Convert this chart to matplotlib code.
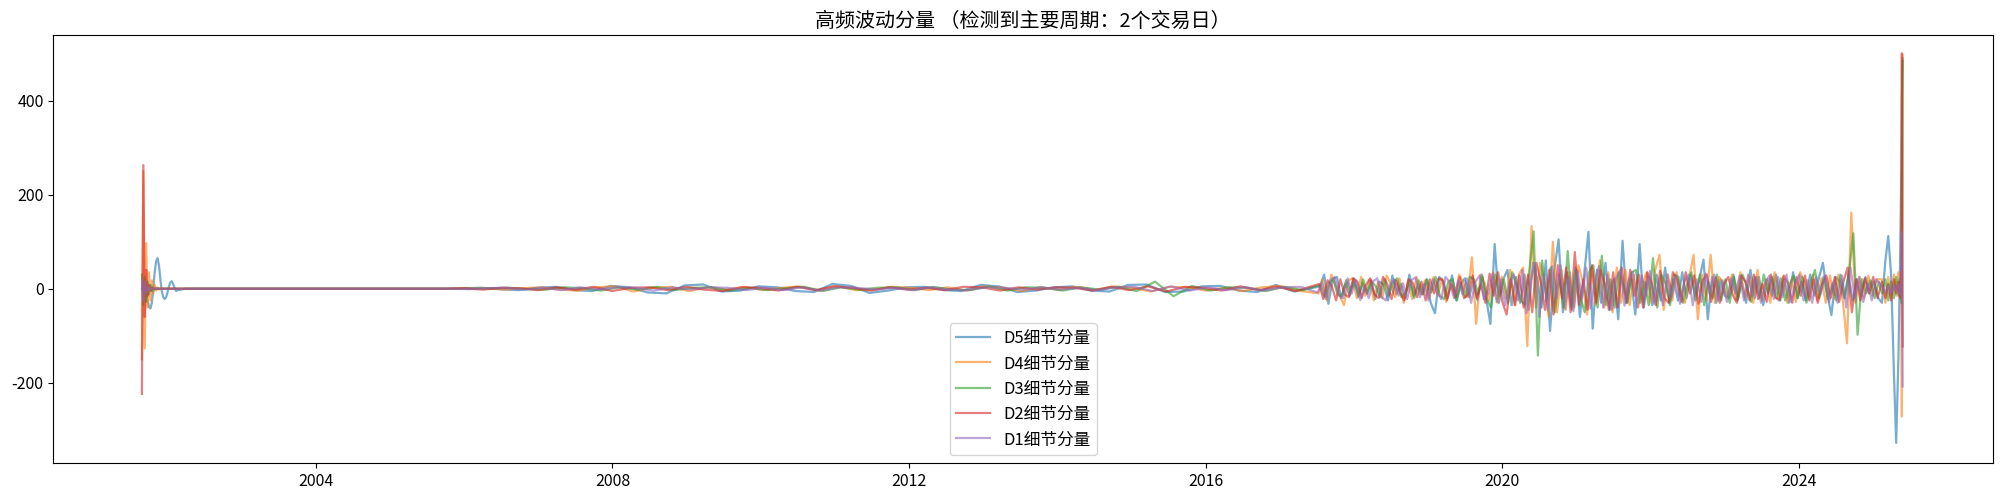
import pandas as pd
import matplotlib
matplotlib.use("Agg")
import matplotlib.pyplot as plt
import matplotlib.dates as mdates

# 폰트 설정 (중국어 글자 + 마이너스)
plt.rcParams["font.family"] = ["Noto Sans CJK SC", "DejaVu Sans"]
plt.rcParams["axes.unicode_minus"] = False
plt.rcParams["font.size"] = 12

# ---- data ----
labels = ["D5细节分量", "D4细节分量", "D3细节分量", "D2细节分量", "D1细节分量"]
colors = ["tab:blue", "tab:orange", "tab:green", "tab:red", "tab:purple"]

# sampling anchors of each component (flat part start, active part end)
flat_start = ["2002-04-01", "2002-04-22", "2002-05-13", "2002-04-08", "2002-05-01"]
active_end = ["2025-01-27", "2025-01-20", "2025-01-30", "2025-01-23", "2025-01-16"]

# end segment dates (final boundary spike)
end_dates = ["2025-02-14", "2025-03-03", "2025-03-17", "2025-03-31", "2025-04-14", "2025-04-25",
             "2025-05-06", "2025-05-14", "2025-05-20", "2025-05-23", "2025-05-27"]

# D5
d5_start = [0, 10, 5, -10, -25, -38, -42, -30, 0, 35, 58, 65, 50, 20, -5, -18, -22, -18, -8, 5, 13, 16, 10, 2, -5, -3]
d5_flat = [0, 0, 0, 0, 0, 0, 0, 0, 0, 0, 0, 0, 0, 0, 0,
           1, 2, -1, -3, 2, 4, -3, -5, 6, 3, -8, -10, 7, 9, -6, -4, 5, 3, -5, -7,
           10, 6, -9, -4, 3, 4, -3, -5, 8, 5, -7, -4, 3, 5, -4, -6, 8, 9, -7, -6,
           5, 6, -4, -7, 8, -6]
d5_active = [5, 30, -32, 20, 25, -20, 10, -15, 22, -18, 12, -10,
             18, -22, 15, 8, -25, 28, -12, 10, -20, 30, -15, 5,
             -12, 20, -30, -52, 25, 15, -20, 28, -25, 10, 22, -18,
             15, -25, 30, -20, -75, 95, -30, 20, 40, -35, 25, -30,
             30, -45, 55, 20, -40, 60, -90, 40, 105, -50, 35, -40,
             45, -60, 30, 121, -85, 40, -30, 55, -45, 20, -65, 102,
             -30, 20, -55, 95, -40, 25, -35, 30, -25, 45, -30, 20,
             -25, 35, -20, 30, -15, 20, 62, -65, 25, -30, 20, -15,
             -20, 30, -25, 15, -30, 40, -20, 25, -35, 20, -15, 30,
             -25, 20, -30, 35, -20, 15, -25, 30, -15, 20, 55, -10,
             -56, 25, 15, -20, 30, -25, 20, -15, 25, -10, 15, -20]
d5_end = [-30, 60, 112, 30, -180, -328, -150, 50, 250, 400, 491]

# D4
d4_start = [-150, 250, -127, 97, -40, 35, -25, 18, -10, 8, -4, 3, -2, 1, 0, 0, 0, 0, 0, 0, 0, 0, 0, 0, 0, 0]
d4_flat = [0, 0, 0, 0, 0, 0, 0, 0, 0, 0, 0, 0, 0, 0, 0,
           0, 1, -2, 1, 3, -2, -4, 3, 5, -6, 2, 4, -5, 3, -2, 4, -3, 2, 5, -4,
           6, -3, -2, 4, 2, -3, 3, -4, 5, 2, -5, 3, -2, 4, -3, 5, 2, -6, 4, 3,
           -4, 2, -5, 3, 6, -4]
d4_active = [-10, 20, -25, 30, 8, -15, -35, 18, 22, -20, 25, -15,
             20, -25, 15, -20, 28, 10, -18, 22, -30, 15, -22, 25,
             -12, 18, -20, 25, -15, 22, -28, 18, -20, 30, 12, -18,
             67, -75, 30, 12, -25, 35, -30, 25, -20, 40, -35, 30,
             45, -122, 133, -40, 55, 20, -60, 100, -50, 40, -45, 35,
             -40, 50, 15, -55, 45, -35, 60, -40, 35, -50, 45, -30,
             40, -35, 30, -40, 10, 35, -30, 40, 72, -45, 30, -25,
             35, -15, -30, 25, 72, -65, 30, -25, 72, -30, 25, 10,
             -20, 30, -25, 35, -20, 28, -30, 40, -25, 20, -30, 35,
             -22, 25, -30, 20, -28, 35, 15, -20, 30, -25, 22, -30,
             28, -22, 30, -25, -116, 162, -30, 25, -20, 28, -15, 20]
d4_end = [20, -30, 25, -20, 30, -15, 35, 10, 40, -272, 498]

# D3
d3_start = [30, -35, 25, -28, 15, -12, 8, -5, 3, -2, 1, 0, 0, 0, 0, 0, 0, 0, 0, 0, 0, 0, 0, 0, 0, 0]
d3_flat = [0, 0, 0, 0, 0, 0, 0, 0, 0, 0, 0, 0, 0, 0, 0,
           0, 1, 2, -1, -2, 3, 1, -4, 3, -2, 4, -3, 2, 3, -4, 2, -3, 1, 4, -5,
           3, -2, 2, 3, -3, 4, -2, -3, 5, -4, 3, 2, -4, 3, -2, 4, -5, 15, -16, 6,
           -4, 3, 2, -5, 4, -3]
d3_active = [8, -18, 12, 20, -12, -15, 18, -6, 14, -15, 20, -10,
             15, 5, -18, 20, -15, 12, 22, -18, -8, 15, -20, 18,
             -12, 20, -8, 25, -15, -22, 15, 20, -25, 12, -18, 25,
             20, -10, 25, -22, -40, 30, -15, 20, -30, 35, 10, -25,
             -35, 40, 122, -142, 60, -25, 45, -50, 30, -40, 80, -45,
             40, -20, -50, 35, 50, -40, 70, -35, 20, -40, 35, 10,
             -30, 35, 40, -30, 15, -35, 65, -40, 30, 10, -35, 30,
             25, -30, 10, 35, -25, 30, -35, 15, -20, 30, -25, 20,
             -30, 25, -20, 30, 8, -28, 25, -20, 30, -10, 25, -20,
             22, -25, 8, 28, -20, 25, -30, 12, 40, -20, 25, -22,
             10, -25, 30, -20, 35, 118, -98, 20, -10, 18, -20, 15]
d3_end = [-10, 20, -25, 15, -20, 25, -15, 20, -30, 10, 485]

# D2
d2_start = [-224, 263, -60, 40, -15, 8, -4, 2, 0, 0, 0, 0, 0, 0, 0, 0, 0, 0, 0, 0, 0, 0, 0, 0, 0, 0]
d2_flat = [0, 0, 0, 0, 0, 0, 0, 0, 0, 0, 0, 0, 0, 0, 0,
           1, -2, 2, 1, -3, 3, -2, 4, -5, 2, 3, -3, 4, -2, -5, 3, 2, -4, 4, -3,
           5, 2, -4, 3, -2, 2, -3, 4, 3, -4, 3, -2, 3, 2, -4, 4, -3, 5, -6, 4,
           2, -4, 5, -3, 4, -5]
d2_active = [10, -22, 18, 5, -25, 20, -12, -18, 22, 15, -20, 8,
             22, -12, -20, 25, 10, -22, 18, -8, -25, 20, 12, -18,
             15, -25, 20, -10, 22, 18, -24, 10, -18, 25, -20, -12,
             28, -20, 10, -30, 32, -15, 35, -28, -55, 20, -35, 28,
             -40, 30, -50, 55, 15, -45, 40, -55, 50, -20, 45, -50,
             78, -35, 20, -45, 50, -30, 40, 10, -45, 35, -40, 45,
             -30, 40, -15, 30, -40, 35, 12, -35, 38, -20, -30, 35,
             20, -28, 35, -10, 28, -32, 18, 30, -28, 25, -30, 10,
             25, -12, -30, 28, 15, -25, 30, -22, 10, -28, 30, -18,
             -25, 28, 12, -30, 25, -15, 28, -25, 20, -30, 8, 28,
             -20, 25, -28, 15, 45, -50, 20, -25, 22, -10, 25, -20]
d2_end = [15, -20, 10, -25, 20, -10, 15, -20, 30, 501, -123]

# D1
d1_start = [20, -25, 15, -10, 5, -3, 0, 0, 0, 0, 0, 0, 0, 0, 0, 0, 0, 0, 0, 0, 0, 0, 0, 0, 0, 0]
d1_flat = [0, 0, 0, 0, 0, 0, 0, 0, 0, 0, 0, 0, 0, 0, 0,
           -1, 1, 2, -2, 2, -3, 3, -2, 3, 2, -4, 3, -2, 3, 2, -3, 2, -3, 3, -4,
           3, 2, -2, 2, -3, 3, -2, -3, 3, 2, -2, 3, -2, 2, -3, 3, 4, -5, 5, -4,
           3, -3, 3, -4, 3, 4]
d1_active = [-8, 12, -22, 18, 25, -15, -20, 22, -10, 18, -24, 6,
             -20, 16, 22, -18, -25, 8, 20, -15, 12, -22, 18, 24,
             -18, 10, -25, 20, -8, -22, 25, 14, -20, 18, -12, 22,
             -30, 15, 28, -22, -10, 32, -28, 20, -35, 12, 30, -25,
             40, -52, 18, 55, -60, 30, -45, 48, -20, 50, -42, 25,
             -48, 38, -20, 45, -42, 15, 48, -40, 30, -45, 22, 40,
             -36, 18, 35, -40, 28, -15, 38, -32, 12, -35, 30, -20,
             28, -32, 15, 30, -35, 20, -28, 32, -12, 30, -25, 18,
             -28, 22, -10, 28, -25, 30, -15, 25, -30, 12, 28, -22,
             25, -18, 30, -28, 10, 30, -25, 18, -30, 25, -12, 28,
             -28, 15, -30, 28, -40, 45, -20, 25, -28, 12, -25, 20]
d1_end = [5, -8, 6, -10, 8, -5, 10, -12, 15, 120, -208]

series = [
    (d5_start, d5_flat, d5_active, d5_end),
    (d4_start, d4_flat, d4_active, d4_end),
    (d3_start, d3_flat, d3_active, d3_end),
    (d2_start, d2_flat, d2_active, d2_end),
    (d1_start, d1_flat, d1_active, d1_end),
]

# ---- plot ----
fig = plt.figure(figsize=(20, 4.93), dpi=100)
ax = fig.add_axes([0.0267, 0.0602, 0.9698, 0.8694])

for k, ((s_a, s_b, s_c, s_d), lab, col) in enumerate(zip(series, labels, colors)):
    x = (list(pd.date_range("2001-08-27", periods=len(s_a), freq="W-MON"))
         + list(pd.date_range(flat_start[k], periods=len(s_b), freq="91D"))
         + list(pd.date_range(end=active_end[k], periods=len(s_c), freq="21D"))
         + list(pd.to_datetime(end_dates[:len(s_d)])))
    y = list(s_a) + list(s_b) + list(s_c) + list(s_d)
    ax.plot(x, y, color=col, alpha=0.6, linewidth=1.6, label=lab)

ax.set_title("高频波动分量 （检测到主要周期：2个交易日）", fontsize=14.4)
ax.set_xlim(pd.Timestamp("2000-06-17"), pd.Timestamp("2026-08-15"))
ax.set_ylim(-371.5, 540.4)
ax.xaxis.set_major_locator(mdates.YearLocator(4))
ax.xaxis.set_major_formatter(mdates.DateFormatter("%Y"))
ax.set_yticks([-200, 0, 200, 400])
ax.tick_params(labelsize=11.5)
ax.legend(loc="lower center", fontsize=12)

plt.savefig("out.png", dpi=100)
